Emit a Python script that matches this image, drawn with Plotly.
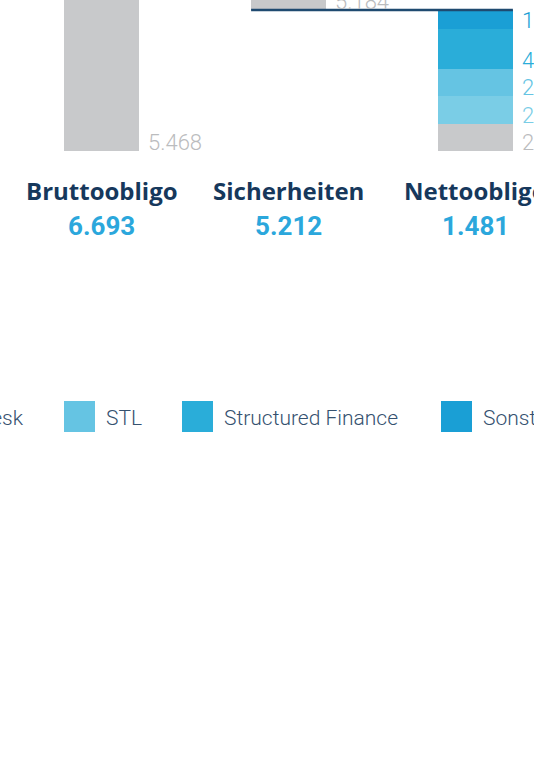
import plotly.graph_objects as go

# ---------------- data ----------------
categories = ["Bruttoobligo", "Sicherheiten", "Nettoobligo"]
totals = [6693, 5212, 1481]

series_names = ["Übrige", "Trading Desk", "STL", "Structured Finance", "Sonstige"]
gray_vals = [5468, 5184, 284]
desk_vals = [297, 5, 292]
stl_vals = [284, 3, 281]
sf_vals = [437, 12, 425]
sonst_vals = [207, 8, 199]
series_values = [gray_vals, desk_vals, stl_vals, sf_vals, sonst_vals]

# ---------------- style ----------------
colors = ["#C8C9CB", "#7ACDE6", "#65C4E3", "#2AADD9", "#1A9FD5"]
label_colors = ["#BBBCBE", "#7ACDE6", "#65C4E3", "#2AADD9", "#1A9FD5"]
NAVY = "#16385C"
VALUE_BLUE = "#2BA7DC"
LEGEND_TXT = "#35516F"
LINE_COL = "#1F4A70"
FONT = "Roboto"
TITLE_FONT = "Open Sans"

W, H = 534, 775
PLOT_H = 151          # plot area height in px (top of page to baseline)
BAR_W = 0.4
x_idx = list(range(len(categories)))


def fmt(v):
    return f"{v:,}".replace(",", ".")


def py_to_paper(py):
    return (PLOT_H - py) / PLOT_H


fig = go.Figure()

# base of each category: Sicherheiten floats on top of Nettoobligo
cat_base = [0, totals[0] - totals[1], 0]
running = list(cat_base)
annotations = []
for name, vals, col, lcol in zip(series_names, series_values, colors, label_colors):
    fig.add_trace(go.Bar(
        x=x_idx, y=vals, base=list(running), width=BAR_W,
        marker=dict(color=col, line=dict(width=0)), name=name,
        showlegend=False, hoverinfo="skip",
    ))
    for j, v in enumerate(vals):
        if v >= 100:
            annotations.append(dict(
                x=j + BAR_W / 2, y=running[j], xref="x", yref="y",
                text=fmt(v), showarrow=False, xanchor="left", yanchor="bottom",
                xshift=7, yshift=-6,
                font=dict(family=FONT, size=22, color=lcol, weight=300),
            ))
    running = [r + v for r, v in zip(running, vals)]

# connector line at Nettoobligo level
fig.add_trace(go.Scatter(
    x=[1 - BAR_W / 2, 2 + BAR_W / 2], y=[totals[2], totals[2]],
    mode="lines", line=dict(color=LINE_COL, width=2.6),
    showlegend=False, hoverinfo="skip",
))

# category names and totals
for j, (c, t) in enumerate(zip(categories, totals)):
    annotations.append(dict(
        x=j, y=py_to_paper(190.5), xref="x", yref="paper", text=f"<b>{c}</b>",
        showarrow=False, xanchor="center", yanchor="middle",
        font=dict(family=TITLE_FONT, size=24, color=NAVY),
    ))
    annotations.append(dict(
        x=j, y=py_to_paper(225.5), xref="x", yref="paper", text=f"<b>{fmt(t)}</b>",
        showarrow=False, xanchor="center", yanchor="middle",
        font=dict(family=FONT, size=26, color=VALUE_BLUE),
    ))

# manual legend (pixel positions of squares)
legend_sq_px = [-330, -150, 64, 182, 441]
SQ = 31
sq_top, sq_bot = 401, 432
shapes = []
for k, (name, col, sx) in enumerate(zip(series_names, colors, legend_sq_px)):
    shapes.append(dict(
        type="rect", xref="paper", yref="paper",
        x0=sx / W, x1=(sx + SQ) / W, y0=py_to_paper(sq_bot), y1=py_to_paper(sq_top),
        fillcolor=col, line=dict(width=0),
    ))
    if name == "Trading Desk":
        ax, anc = 26 / W, "right"
    else:
        ax, anc = (sx + SQ + 9) / W, "left"
    annotations.append(dict(
        x=ax, y=py_to_paper(418), xref="paper", yref="paper", text=name,
        showarrow=False, xanchor=anc, yanchor="middle",
        font=dict(family=FONT, size=21, color=LEGEND_TXT, weight=300),
    ))

x0_px, x_step = 101.5, 187.0
fig.update_layout(
    width=W, height=H,
    margin=dict(l=0, r=0, t=0, b=H - PLOT_H, pad=0, autoexpand=False),
    paper_bgcolor="white", plot_bgcolor="white",
    barmode="overlay", bargap=0,
    xaxis=dict(visible=False, range=[-x0_px / x_step, (W - x0_px) / x_step], fixedrange=True),
    yaxis=dict(visible=False, range=[0, 1586], fixedrange=True),
    annotations=annotations, shapes=shapes,
    showlegend=False,
)

fig.write_html("out.html", config={"displayModeBar": False},
               post_script="document.body.style.margin='0';")
